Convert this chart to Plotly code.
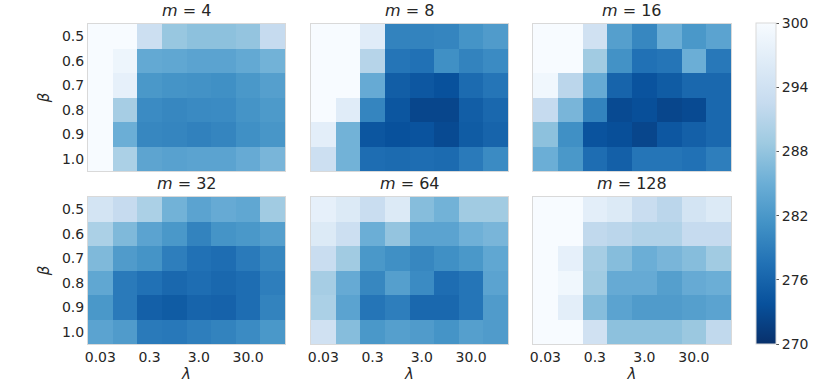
import plotly.graph_objects as go
import plotly.colors as pc

lambdas = ["0.03", "0.1", "0.3", "1.0", "3.0", "10.0", "30.0", "100.0"]
lambda_ticks = ["0.03", "0.3", "3.0", "30.0"]
betas = ["0.5", "0.6", "0.7", "0.8", "0.9", "1.0"]
titles = ["m = 4", "m = 8", "m = 16", "m = 32", "m = 64", "m = 128"]
cbar_ticks = [270, 276, 282, 288, 294, 300]

m4 = [
    [300, 300, 293.5, 288.3, 287.5, 287.5, 288.0, 292.5],
    [300, 298.5, 284.3, 284.0, 283.5, 283.5, 284.3, 285.5],
    [300, 297.5, 282.0, 281.5, 281.3, 281.0, 282.0, 283.0],
    [300, 289.5, 280.5, 280.0, 280.3, 280.5, 281.5, 282.3],
    [300, 285.0, 280.0, 279.8, 279.3, 279.8, 281.0, 281.8],
    [300, 290.0, 283.7, 283.3, 283.5, 283.5, 284.5, 286.0],
]
m8 = [
    [300, 300, 296.5, 279.5, 279.5, 279.8, 281.5, 282.5],
    [300, 300, 291.0, 278.0, 277.5, 281.0, 279.5, 280.5],
    [300, 300, 284.5, 275.3, 274.5, 273.8, 276.8, 278.0],
    [300, 296.5, 279.8, 274.3, 272.5, 272.5, 275.3, 276.5],
    [297.0, 285.5, 274.3, 273.8, 274.0, 273.0, 275.0, 276.0],
    [293.5, 285.5, 277.0, 276.8, 277.0, 276.8, 278.5, 280.5],
]
m16 = [
    [300, 300, 294.0, 283.0, 280.0, 285.0, 282.0, 283.5],
    [300, 300, 289.0, 281.3, 277.5, 278.0, 285.0, 278.3],
    [299.0, 291.5, 284.5, 276.0, 274.0, 275.0, 276.5, 276.5],
    [292.5, 286.0, 279.5, 273.0, 273.5, 272.5, 273.0, 276.5],
    [287.5, 281.0, 274.0, 273.5, 272.5, 274.5, 275.5, 276.5],
    [285.0, 282.0, 277.0, 275.5, 278.0, 278.0, 277.5, 279.0],
]
m32 = [
    [294.5, 292.5, 290.0, 285.5, 283.5, 284.5, 284.0, 289.0],
    [290.0, 286.5, 283.5, 282.0, 279.5, 281.5, 282.0, 283.0],
    [286.5, 282.5, 281.5, 279.0, 277.5, 277.0, 278.5, 280.0],
    [284.0, 278.5, 277.5, 276.5, 277.0, 276.5, 277.0, 279.0],
    [282.0, 278.5, 275.5, 275.0, 276.0, 275.8, 277.0, 279.5],
    [283.5, 282.5, 278.5, 278.3, 279.0, 279.5, 280.5, 282.0],
]
m64 = [
    [297.5, 296.0, 293.0, 296.0, 287.0, 285.5, 289.0, 289.0],
    [296.0, 293.5, 285.0, 288.0, 283.5, 283.5, 285.3, 286.0],
    [293.0, 289.0, 282.0, 281.0, 280.0, 281.0, 282.0, 284.0],
    [289.5, 284.5, 280.0, 283.0, 280.5, 277.0, 278.0, 283.5],
    [290.0, 283.5, 278.0, 279.0, 276.5, 276.5, 278.0, 282.5],
    [294.0, 287.0, 282.0, 283.0, 282.5, 281.5, 283.0, 282.5],
]
m128 = [
    [300, 300, 297.0, 296.0, 293.0, 291.5, 294.5, 296.0],
    [300, 300, 292.0, 291.5, 290.5, 290.5, 292.5, 292.5],
    [300, 297.5, 289.5, 287.0, 285.0, 286.0, 287.0, 289.0],
    [300, 299.0, 289.0, 284.5, 284.5, 283.0, 284.5, 285.0],
    [300, 297.0, 287.0, 283.5, 282.5, 282.5, 283.0, 283.5],
    [300, 300, 294.0, 287.5, 287.5, 287.5, 288.5, 292.0],
]
panels = [m4, m8, m16, m32, m64, m128]

W, H = 814, 391
xpx = [(88, 285), (311, 508), (533, 731)]
ypx = [(24, 171), (197, 344)]

colorscale = pc.sequential.Blues_r
font_family = "DejaVu Sans"
text_color = "#262626"
edge_color = "#d9d9d9"

fig = go.Figure()
for i, z in enumerate(panels):
    r, c = divmod(i, 3)
    ax = "" if i == 0 else str(i + 1)
    fig.add_trace(go.Heatmap(
        z=z, x=lambdas, y=betas,
        zmin=270, zmax=300, colorscale=colorscale,
        showscale=(i == 0),
        xaxis="x" + ax, yaxis="y" + ax,
        xgap=0, ygap=0,
        colorbar=dict(
            x=756 / W, xanchor="left", y=1 - 23 / H, yanchor="top",
            len=(344 - 23) / H, lenmode="fraction",
            thickness=20, thicknessmode="pixels", xpad=0, ypad=0,
            tickvals=cbar_ticks, ticks="outside", ticklen=3,
            tickcolor="#555555", outlinewidth=1, outlinecolor=edge_color,
            tickfont=dict(size=14, color=text_color, family=font_family),
        ),
        hoverinfo="skip",
    ))
    x0, x1 = xpx[c]
    y0, y1 = ypx[r]
    fig.layout["xaxis" + ax] = dict(
        domain=[x0 / W, x1 / W], anchor="y" + ax, automargin=False,
        type="category", tickmode="array", tickvals=lambda_ticks,
        ticktext=lambda_ticks, showticklabels=(r == 1),
        ticks="", showgrid=False, zeroline=False,
        showline=True, mirror=True, linecolor=edge_color, linewidth=1,
        tickfont=dict(size=14, color=text_color, family=font_family),
        title=dict(text="<i>λ</i>" if r == 1 else "", standoff=0,
                   font=dict(size=15, color=text_color, family=font_family)),
    )
    fig.layout["yaxis" + ax] = dict(
        domain=[1 - y1 / H, 1 - y0 / H], anchor="x" + ax, automargin=False,
        type="category", autorange="reversed", showticklabels=(c == 0),
        ticks="", showgrid=False, zeroline=False,
        showline=True, mirror=True, linecolor=edge_color, linewidth=1,
        tickfont=dict(size=14, color=text_color, family=font_family),
        title=dict(text="<i>β</i>" if c == 0 else "", standoff=8,
                   font=dict(size=15, color=text_color, family=font_family)),
    )
    m_val = titles[i].split("= ")[1]
    fig.add_annotation(
        x=(x0 + x1) / 2 / W, y=1 - (y0 - 2) / H, xref="paper", yref="paper",
        xanchor="center", yanchor="bottom", showarrow=False,
        text="<i>m</i> = " + m_val,
        font=dict(size=16, color=text_color, family=font_family),
    )

fig.update_layout(
    width=W, height=H, margin=dict(l=0, r=0, t=0, b=0),
    paper_bgcolor="white", plot_bgcolor="white",
    font=dict(family=font_family, color=text_color),
)
fig.write_html("out.html", config={"displayModeBar": False},
               post_script="document.body.style.margin='0';document.body.style.overflow='hidden';")
